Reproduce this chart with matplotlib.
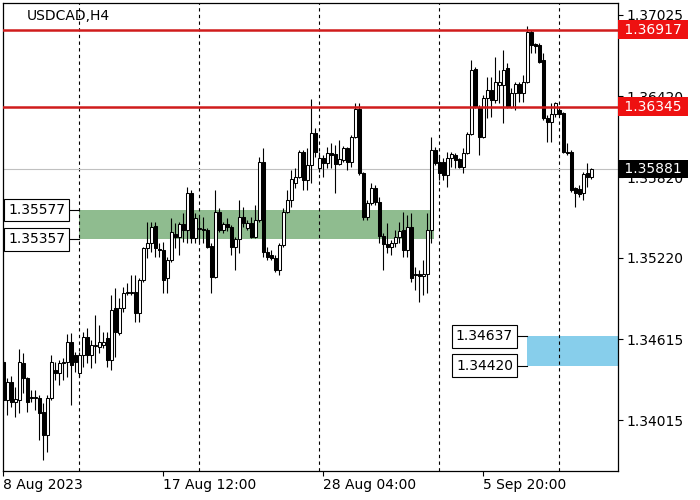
import matplotlib
matplotlib.use("Agg")
import matplotlib.pyplot as plt
import numpy as np

# USDCAD H4, 8 Aug 2023 20:00 onwards
opens = [1.34446, 1.34164, 1.34298, 1.34149, 1.34164, 1.34439, 1.34327, 1.34186, 1.34179, 1.34179,
         1.34075, 1.33904, 1.34179, 1.34387, 1.34365, 1.34439, 1.34446, 1.34595, 1.34498, 1.34365,
         1.34498, 1.34632, 1.34498, 1.34565, 1.34558, 1.34573, 1.34625, 1.34461, 1.34848, 1.34662,
         1.34848, 1.34959, 1.34959, 1.34966, 1.34810, 1.35056, 1.35293, 1.35331, 1.35457, 1.35286,
         1.35278, 1.35070, 1.35204, 1.35397, 1.35375, 1.35472, 1.35427, 1.35702, 1.35368, 1.35435,
         1.35435, 1.35427, 1.35308, 1.35078, 1.35561, 1.35427, 1.35472, 1.35449, 1.35301, 1.35360,
         1.35524, 1.35442, 1.35479, 1.35375, 1.35501, 1.35932, 1.35264, 1.35241, 1.35219, 1.35130,
         1.35316, 1.35561, 1.35650, 1.35776, 1.35821, 1.36007, 1.35799, 1.35910, 1.36148, 1.35888,
         1.35962, 1.35925, 1.35999, 1.35992, 1.35917, 1.35947, 1.36036, 1.35932, 1.36118, 1.36326,
         1.35851, 1.35524, 1.35628, 1.35739, 1.35635, 1.35383, 1.35323, 1.35301, 1.35331, 1.35375,
         1.35427, 1.35278, 1.35449, 1.35100, 1.35100, 1.35085, 1.35100, 1.35427, 1.36021, 1.35932,
         1.35932, 1.35836, 1.35962, 1.35984, 1.35955, 1.35895, 1.35999, 1.36140, 1.36623, 1.36341,
         1.36118, 1.36408, 1.36467, 1.36393, 1.36504, 1.36504, 1.36631, 1.36341, 1.36445, 1.36512,
         1.36445, 1.36527, 1.36898, 1.36809, 1.36802, 1.36690, 1.36259, 1.36230, 1.36289, 1.36319,
         1.36296, 1.36007, 1.36007, 1.35739, 1.35732, 1.35702, 1.35851, 1.35821]
highs = [1.34461, 1.34327, 1.34342, 1.34261, 1.34543, 1.34513, 1.34335, 1.34238, 1.34238, 1.34201,
         1.34142, 1.34201, 1.34498, 1.34446, 1.34461, 1.34476, 1.34654, 1.34662, 1.34521, 1.34521,
         1.34669, 1.34699, 1.34610, 1.34796, 1.34721, 1.34669, 1.34669, 1.34944, 1.34996, 1.34922,
         1.35004, 1.35033, 1.35093, 1.35093, 1.35070, 1.35301, 1.35487, 1.35487, 1.35487, 1.35331,
         1.35338, 1.35226, 1.35516, 1.35479, 1.35487, 1.35553, 1.35747, 1.35724, 1.35553, 1.35524,
         1.35524, 1.35442, 1.35331, 1.35724, 1.35591, 1.35487, 1.35516, 1.35464, 1.35375, 1.35650,
         1.35598, 1.35501, 1.35524, 1.35613, 1.35969, 1.36036, 1.35301, 1.35278, 1.35241, 1.35331,
         1.35591, 1.35724, 1.35873, 1.35888, 1.36021, 1.36021, 1.36036, 1.36400, 1.36185, 1.36007,
         1.35984, 1.36044, 1.36074, 1.36059, 1.36096, 1.36051, 1.36044, 1.36133, 1.36371, 1.36371,
         1.35858, 1.35650, 1.35776, 1.35761, 1.35672, 1.35405, 1.35479, 1.35353, 1.35427, 1.35487,
         1.35561, 1.35539, 1.35553, 1.35152, 1.35130, 1.35204, 1.35553, 1.36118, 1.36044, 1.35984,
         1.35962, 1.36007, 1.36007, 1.35999, 1.35962, 1.36036, 1.36155, 1.36690, 1.36638, 1.36356,
         1.36430, 1.36564, 1.36564, 1.36712, 1.36616, 1.36764, 1.36668, 1.36482, 1.36527, 1.36527,
         1.36579, 1.36943, 1.36913, 1.36817, 1.36817, 1.36742, 1.36282, 1.36371, 1.36378, 1.36334,
         1.36304, 1.36074, 1.36021, 1.35747, 1.35761, 1.35858, 1.35925, 1.35888]
lows = [1.34105, 1.34053, 1.34112, 1.34038, 1.34067, 1.34216, 1.34075, 1.34149, 1.34090, 1.33867,
        1.33718, 1.33778, 1.34164, 1.34313, 1.34275, 1.34313, 1.34335, 1.34127, 1.34372, 1.34335,
        1.34409, 1.34439, 1.34402, 1.34439, 1.34513, 1.34550, 1.34409, 1.34387, 1.34483, 1.34647,
        1.34818, 1.34944, 1.34944, 1.34744, 1.34744, 1.35041, 1.35219, 1.35264, 1.35226, 1.35226,
        1.34959, 1.34959, 1.35189, 1.35293, 1.35241, 1.35338, 1.35331, 1.35331, 1.35331, 1.35338,
        1.35331, 1.35293, 1.34959, 1.35070, 1.35412, 1.35405, 1.35420, 1.35241, 1.35130, 1.35256,
        1.35449, 1.35427, 1.35368, 1.35368, 1.35487, 1.35226, 1.35204, 1.35204, 1.35115, 1.35093,
        1.35301, 1.35553, 1.35598, 1.35739, 1.35813, 1.35724, 1.35724, 1.35776, 1.35969, 1.35858,
        1.35821, 1.35888, 1.35888, 1.35702, 1.35910, 1.35932, 1.35873, 1.35895, 1.36111, 1.35836,
        1.35501, 1.35501, 1.35613, 1.35613, 1.35331, 1.35130, 1.35256, 1.35241, 1.35301, 1.35331,
        1.35226, 1.35226, 1.35041, 1.34981, 1.34892, 1.34944, 1.34959, 1.35331, 1.35910, 1.35799,
        1.35799, 1.35747, 1.35895, 1.35888, 1.35888, 1.35851, 1.35992, 1.36133, 1.36334, 1.35984,
        1.36111, 1.36259, 1.36267, 1.36371, 1.36371, 1.36222, 1.36334, 1.36334, 1.36319, 1.36378,
        1.36378, 1.36519, 1.36742, 1.36742, 1.36668, 1.36244, 1.36081, 1.36081, 1.36267, 1.36282,
        1.35999, 1.35984, 1.35709, 1.35598, 1.35672, 1.35650, 1.35747, 1.35806]
closes = [1.34164, 1.34298, 1.34149, 1.34171, 1.34446, 1.34327, 1.34149, 1.34179, 1.34186, 1.34067,
          1.33904, 1.34179, 1.34446, 1.34365, 1.34439, 1.34446, 1.34595, 1.34424, 1.34446, 1.34498,
          1.34632, 1.34498, 1.34573, 1.34573, 1.34595, 1.34595, 1.34461, 1.34833, 1.34669, 1.34848,
          1.34959, 1.34966, 1.34966, 1.34810, 1.35056, 1.35293, 1.35331, 1.35449, 1.35293, 1.35278,
          1.35056, 1.35204, 1.35412, 1.35375, 1.35472, 1.35427, 1.35702, 1.35368, 1.35516, 1.35442,
          1.35427, 1.35301, 1.35078, 1.35561, 1.35427, 1.35472, 1.35449, 1.35301, 1.35360, 1.35524,
          1.35479, 1.35479, 1.35375, 1.35501, 1.35932, 1.35264, 1.35226, 1.35219, 1.35130, 1.35316,
          1.35561, 1.35650, 1.35806, 1.35821, 1.36007, 1.35799, 1.35910, 1.36148, 1.36007, 1.35962,
          1.35925, 1.35999, 1.35984, 1.35917, 1.35955, 1.36036, 1.35932, 1.36118, 1.36326, 1.35851,
          1.35524, 1.35628, 1.35739, 1.35635, 1.35383, 1.35323, 1.35301, 1.35331, 1.35375, 1.35420,
          1.35278, 1.35449, 1.35070, 1.35093, 1.35085, 1.35100, 1.35427, 1.36021, 1.35925, 1.35851,
          1.35836, 1.35962, 1.35992, 1.35947, 1.35895, 1.35999, 1.36140, 1.36616, 1.36348, 1.36118,
          1.36408, 1.36467, 1.36393, 1.36527, 1.36527, 1.36616, 1.36341, 1.36445, 1.36512, 1.36445,
          1.36527, 1.36898, 1.36802, 1.36794, 1.36675, 1.36259, 1.36230, 1.36289, 1.36371, 1.36289,
          1.36007, 1.35999, 1.35724, 1.35702, 1.35695, 1.35843, 1.35821, 1.35881]

date_tick_bars = [0, 40, 80, 120]
date_tick_labels = ["8 Aug 2023", "17 Aug 12:00", "28 Aug 04:00", "5 Sep 20:00"]
week_separators = [19, 49, 79, 109, 139]
price_ticks = [1.37025, 1.36420, 1.35820, 1.35220, 1.34615, 1.34015]

resistance_levels = [1.36917, 1.36345]
bid = 1.35881
green_zone = (1.35357, 1.35577)
green_span = (18.9, 107.65)
blue_zone = (1.34420, 1.34637)
blue_start = 130.9

o = np.array(opens); h = np.array(highs); l = np.array(lows); c = np.array(closes)
x = np.arange(len(o))
up = c >= o

fig = plt.figure(figsize=(7, 5), dpi=100)
ax = fig.add_axes([3 / 700, 29 / 500, 615 / 700, 468 / 500])
ax.set_xlim(-0.1, -0.1 + 615 / 4)
ax.set_ylim(1.33637, 1.37114)

# zones
ax.fill_between(green_span, green_zone[0], green_zone[1], color="#8fbc8f", lw=0, zorder=1)
ax.fill_between([blue_start, 160], blue_zone[0], blue_zone[1], color="#87ceeb", lw=0, zorder=1)

for b in week_separators:
    ax.axvline(b, color="black", lw=0.8, ls=(0, (3, 3)), zorder=2)

ax.axhline(bid, color="#c0c0c0", lw=0.8, zorder=2)

# candles
ax.vlines(x, l, h, color="black", lw=0.8, zorder=3)
body_h = np.maximum(np.abs(c - o), 0.000005)
ax.bar(x[up], body_h[up], bottom=o[up], width=0.6, color="white", edgecolor="black", lw=0.75, zorder=4)
ax.bar(x[~up], body_h[~up], bottom=c[~up], width=0.6, color="black", edgecolor="black", lw=0.75, zorder=4)

for lvl in resistance_levels:
    ax.axhline(lvl, color="#d01c1c", lw=1.8, zorder=5)

# axes styling
for s in ax.spines.values():
    s.set_color("black")
    s.set_linewidth(0.9)
ax.yaxis.tick_right()
ax.set_yticks(price_ticks)
ax.set_yticklabels([f"{v:.5f}" for v in price_ticks])
ax.tick_params(axis="y", length=3.6, width=0.8, pad=2.5, labelsize=10, colors="black")
ax.set_xticks(date_tick_bars)
ax.set_xticklabels(date_tick_labels)
ax.tick_params(axis="x", length=3.6, width=0.8, pad=1.5, labelsize=10, colors="black")
for t in ax.get_xticklabels():
    t.set_horizontalalignment("left")

ax.text(0.039, 0.972, "USDCAD,H4", transform=ax.transAxes, fontsize=10, va="center", ha="left")

# price labels on the right
ytr = ax.get_yaxis_transform()
for lvl in resistance_levels:
    ax.text(1.003, lvl, f" {lvl:.5f} ", transform=ytr, fontsize=10, color="white", va="center", ha="left",
            bbox=dict(boxstyle="square,pad=0.15", fc="#ee1111", ec="none"), clip_on=False, zorder=6)
ax.text(1.003, bid, f" {bid:.5f} ", transform=ytr, fontsize=10, color="white", va="center", ha="left",
        bbox=dict(boxstyle="square,pad=0.15", fc="black", ec="none"), clip_on=False, zorder=6)

# zone labels
for start, zone in [(green_span[0], green_zone), (blue_start, blue_zone)]:
    for lvl in zone:
        ax.plot([start - 2.5, start], [lvl, lvl], color="black", lw=0.8, zorder=6)
        ax.text(start - 3.5, lvl, f"{lvl:.5f}", fontsize=10, va="center", ha="right", zorder=7,
                bbox=dict(boxstyle="square,pad=0.3", fc="white", ec="black", lw=0.8))

fig.savefig("out.png", dpi=100)
